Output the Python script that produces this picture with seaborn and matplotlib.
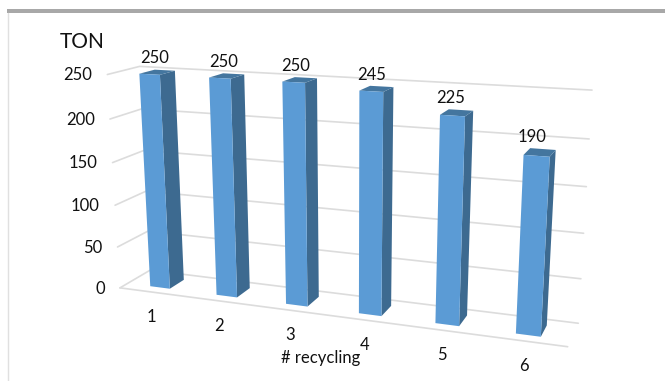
import numpy as np
import pandas as pd
import matplotlib
matplotlib.use("Agg")
import matplotlib.pyplot as plt
from matplotlib.transforms import Transform
import seaborn as sns

# Series
cycles = ["1", "2", "3", "4", "5", "6"]
tons = [250, 250, 250, 245, 225, 190]
value_ticks = [0, 50, 100, 150, 200, 250]
value_axis_title = "TON"
category_axis_title = "# recycling"

FRONT = "#5b9bd5"
SIDE = "#3d6a90"
TOP = "#44769f"
GRID = "#dcdcdc"
INK = "#111111"

# View calibration: (category, depth, value) -> pixel, solved as a 3x4 camera matrix
LEFT, RIGHT = -0.5, 5.5
ZMAX = 250
anchors = [
    ((LEFT, 0, 0), (120, 288)),
    ((RIGHT, 0, 0), (568, 346)),
    ((LEFT, 1, 0), (150, 270)),
    ((RIGHT, 1, 0), (578, 324)),
    ((LEFT, 1, ZMAX), (140, 66)),
    ((RIGHT, 1, ZMAX), (592, 90)),
    ((LEFT, 0, ZMAX), (107, 75)),
]
rows = []
for (x, d, z), (u, v) in anchors:
    rows.append([x, d, z / ZMAX, 1, 0, 0, 0, 0, -u * x, -u * d, -u * z / ZMAX, -u])
    rows.append([0, 0, 0, 0, x, d, z / ZMAX, 1, -v * x, -v * d, -v * z / ZMAX, -v])
camera = np.linalg.svd(np.array(rows, float))[2][-1].reshape(3, 4)


def project(x, d, z):
    x, d, z = np.broadcast_arrays(np.asarray(x, float), np.asarray(d, float), np.asarray(z, float))
    h = np.stack([x, d, z / ZMAX, np.ones_like(x)])
    out = np.tensordot(camera, h, axes=1)
    return out[0] / out[2], out[1] / out[2]


class DepthPlane(Transform):
    """Maps (category, value) on a plane of constant depth into the view."""
    input_dims = output_dims = 2
    is_separable = False
    has_inverse = False

    def __init__(self, plane_depth):
        super().__init__()
        self.plane_depth = plane_depth

    def transform_non_affine(self, values):
        values = np.asarray(values, float)
        u, v = project(values[:, 0], self.plane_depth, values[:, 1])
        return np.column_stack([u, v])


sns.set_theme(style="white")
plt.rcParams["font.family"] = ["Lato", "DejaVu Sans"]
plt.rcParams["text.color"] = INK

fig = plt.figure(figsize=(6.65, 3.81), dpi=100)
ax = fig.add_axes([0, 0, 1, 1])

BAR_WIDTH = 0.30
D_FRONT, D_BACK = 0.25, 0.74

frame = pd.DataFrame({"cycle": cycles, "ton": tons})
sns.barplot(data=frame, x="cycle", y="ton", color=FRONT, saturation=1, width=BAR_WIDTH,
            errorbar=None, ax=ax, zorder=4, linewidth=0)
for patch in ax.patches:
    patch.set_transform(DepthPlane(D_FRONT) + ax.transData)
    patch.set_clip_on(False)

ax.set_xlim(0, 665)
ax.set_ylim(381, 0)
ax.axis("off")

# Page frame around the chart
ax.fill([7, 665, 665, 7], [9, 9, 13, 13], color="#a8a8a8", lw=0, zorder=1)
ax.plot([7.5, 7.5], [13, 381], color="#e0e0e0", lw=1, zorder=1)

# Gridlines on side wall and back wall, plus the floor outline
for tick in value_ticks:
    xs, ys = project([LEFT, LEFT, RIGHT], [0, 1, 1], tick)
    ax.plot(xs, ys, color=GRID, lw=1.2, zorder=2, solid_joinstyle="miter")
xs, ys = project([LEFT, RIGHT], 0, 0)
ax.plot(xs, ys, color=GRID, lw=1.2, zorder=2)

# Side and top faces of each column, and value labels
for i, value in enumerate(tons):
    x0, x1 = i - BAR_WIDTH / 2, i + BAR_WIDTH / 2
    u, v = project([x1, x1, x1, x1], [D_FRONT, D_BACK, D_BACK, D_FRONT], [0, 0, value, value])
    ax.fill(u, v, color=SIDE, lw=0, zorder=3)
    u, v = project([x0, x1, x1, x0], [D_FRONT, D_FRONT, D_BACK, D_BACK], value)
    ax.fill(u, v, color=TOP, lw=0, zorder=3)
    u, v = project(i, D_BACK, value)
    ax.annotate(str(value), (u, v), xytext=(-7.5, 8.5), textcoords="offset points",
                ha="center", va="center", fontsize=12, zorder=6)

# Value axis labels
for tick in value_ticks:
    u, v = project(LEFT, 0, tick)
    ax.annotate(str(tick), (u, v), xytext=(-11, -0.5), textcoords="offset points",
                ha="right", va="center", fontsize=12)

# Category labels below the floor
for i, label in enumerate(cycles):
    u, v = project(i, 0, 0)
    ax.annotate(label, (u, v), xytext=(-0.5, -18), textcoords="offset points",
                ha="center", va="center", fontsize=12)

ax.text(82, 41.5, value_axis_title, ha="center", va="center", fontsize=15)
ax.text(321, 358.5, category_axis_title, ha="center", va="center", fontsize=12)

fig.savefig("out.png", dpi=100)
